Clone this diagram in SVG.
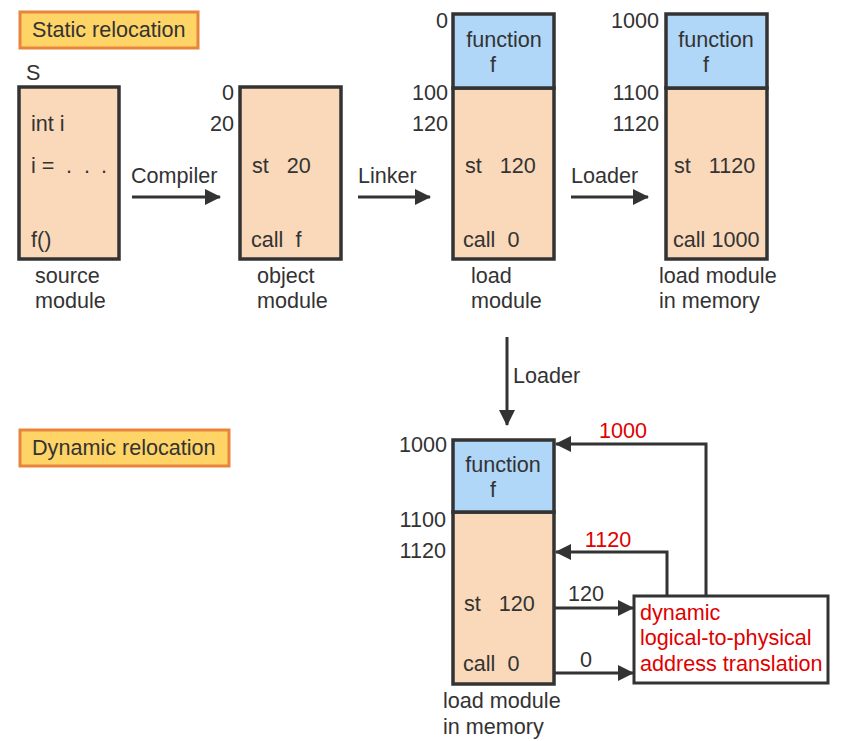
<svg xmlns="http://www.w3.org/2000/svg" width="843" height="741" viewBox="0 0 843 741">
<defs>
<marker id="ah" viewBox="0 0 16 16" refX="15" refY="8" markerWidth="16" markerHeight="16" markerUnits="userSpaceOnUse" orient="auto">
<path d="M0,0 L16,8 L0,16 Z" fill="#333"/>
</marker>
</defs>
<style>
text{font-family:"Liberation Sans",Arial,sans-serif;font-size:21.6px;fill:#333}
.r{text-anchor:end}
.m{text-anchor:middle}
.red{fill:#E00000}
.title{fill:#FFD466;stroke:#E8843C;stroke-width:3}
.peach{fill:#F9D9BA;stroke:#333;stroke-width:3.5}
.blue{fill:#B0D6F8;stroke:#333;stroke-width:3.5}
.wbox{fill:#fff;stroke:#333;stroke-width:3}
.ln{fill:none;stroke:#333;stroke-width:3;marker-end:url(#ah)}
</style>
<rect width="843" height="741" fill="#fff"/>

<g id="title-static">
<rect class="title" x="20" y="12" width="178" height="36"/>
<text x="32" y="37">Static relocation</text>
</g>

<g id="source-module">
<text x="26" y="80">S</text>
<rect class="peach" x="19" y="87" width="100" height="172"/>
<text x="31" y="131">int i</text>
<text x="31" y="173">i = <tspan x="66">.</tspan><tspan x="84">.</tspan><tspan x="101">.</tspan></text>
<text x="31" y="247">f()</text>
<text x="35" y="283">source</text>
<text x="35" y="308">module</text>
</g>

<g id="object-module">
<text class="r" x="234" y="100">0</text>
<text class="r" x="234" y="131">20</text>
<rect class="peach" x="240" y="87" width="101" height="172"/>
<text x="252" y="173" xml:space="preserve">st   20</text>
<text x="251" y="247" xml:space="preserve">call  f</text>
<text x="257" y="283">object</text>
<text x="257" y="308">module</text>
</g>

<g id="load-module">
<text class="r" x="448" y="28">0</text>
<text class="r" x="448" y="100">100</text>
<text class="r" x="448" y="131">120</text>
<rect class="peach" x="453" y="88" width="101" height="171"/>
<rect class="blue" x="453" y="14" width="101" height="74"/>
<text class="m" x="504" y="47">function</text>
<text class="m" x="493" y="72">f</text>
<text x="465" y="173" xml:space="preserve">st   120</text>
<text x="463" y="247" xml:space="preserve">call  0</text>
<text x="471" y="283">load</text>
<text x="471" y="308">module</text>
</g>

<g id="load-module-memory">
<text class="r" x="659" y="28">1000</text>
<text class="r" x="659" y="100">1100</text>
<text class="r" x="659" y="131">1120</text>
<rect class="peach" x="666" y="88" width="101" height="171"/>
<rect class="blue" x="666" y="14" width="101" height="74"/>
<text class="m" x="716" y="47">function</text>
<text class="m" x="706" y="72">f</text>
<text x="674" y="173" xml:space="preserve">st   1120</text>
<text x="673" y="247">call 1000</text>
<text x="659" y="283">load module</text>
<text x="659" y="308">in memory</text>
</g>

<g id="title-dynamic">
<rect class="title" x="20" y="430" width="209" height="36"/>
<text x="32" y="455">Dynamic relocation</text>
</g>

<g id="dyn-load-module">
<text class="r" x="447" y="452">1000</text>
<text class="r" x="446" y="527">1100</text>
<text class="r" x="446" y="558">1120</text>
<rect class="peach" x="453" y="512" width="101" height="172"/>
<rect class="blue" x="453" y="440" width="101" height="72"/>
<text class="m" x="503" y="472">function</text>
<text class="m" x="493" y="497">f</text>
<text x="464" y="611" xml:space="preserve">st   120</text>
<text x="463" y="671" xml:space="preserve">call  0</text>
<text x="443" y="708">load module</text>
<text x="443" y="734">in memory</text>
</g>

<g id="translation">
<rect class="wbox" x="634" y="596" width="194" height="87"/>
<text class="red" x="640" y="620">dynamic</text>
<text class="red" x="640" y="645">logical-to-physical</text>
<text class="red" x="640" y="671">address translation</text>
</g>

<g id="connectors">
<line class="ln" x1="132" y1="197" x2="220" y2="197"/>
<text x="131" y="183">Compiler</text>
<line class="ln" x1="358" y1="197" x2="430" y2="197"/>
<text x="358" y="183">Linker</text>
<line class="ln" x1="571" y1="197" x2="648" y2="197"/>
<text x="571" y="183">Loader</text>
<line class="ln" x1="507" y1="337" x2="507" y2="425"/>
<text x="513" y="383">Loader</text>
<polyline class="ln" points="706,596 706,444 556,444"/>
<text class="red m" x="623" y="438">1000</text>
<polyline class="ln" points="667,596 667,552 556,552"/>
<text class="red m" x="608" y="547">1120</text>
<line class="ln" x1="554" y1="608" x2="633" y2="608"/>
<text class="m" x="586" y="601">120</text>
<line class="ln" x1="554" y1="673" x2="633" y2="673"/>
<text class="m" x="586" y="667">0</text>
</g>
</svg>
